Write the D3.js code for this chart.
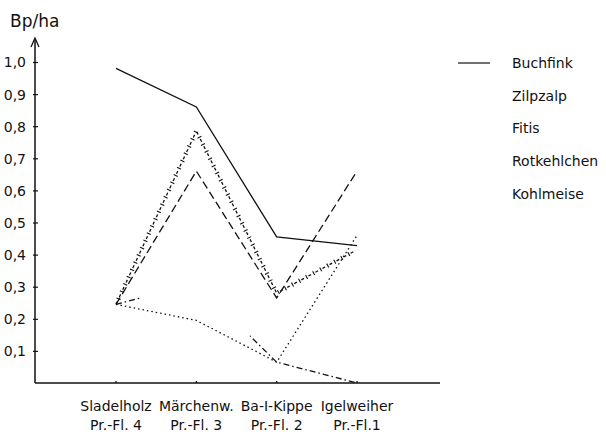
<!DOCTYPE html>
<html>
<head>
<meta charset="utf-8">
<script src="https://cdn.jsdelivr.net/npm/d3@7"></script>
<style>
body { margin: 0; background: #fff; }
text { font-family: "DejaVu Sans", sans-serif; fill: #111; }
.line { fill: none; stroke: #111; stroke-width: 1.3; }
</style>
</head>
<body>
<svg id="chart" width="606" height="434"></svg>
<script>
// sites along the x axis
var sites = ["Sladelholz", "Märchenw.", "Ba-I-Kippe", "Igelweiher"]
var plots = ["Pr.-Fl. 4", "Pr.-Fl. 3", "Pr.-Fl. 2", "Pr.-Fl.1"]

// Bp/ha per site
var buchfink = [0.98, 0.86, 0.455, 0.428]
var zilpzalp = [0.245, 0.66, 0.265, 0.66]
var fitis = [0.245, 0.785, 0.28, 0.415]
var rotkehlchen = [0.245, 0.195, 0.065, 0.46]
var kohlmeise = [0.245, 0.31, 0.065, 0.0]

var yTicks = [0.1, 0.2, 0.3, 0.4, 0.5, 0.6, 0.7, 0.8, 0.9, 1.0]
var legendNames = ["Buchfink", "Zilpzalp", "Fitis", "Rotkehlchen", "Kohlmeise"]

var svg = d3.select("#chart")

var x = d3.scalePoint().domain(sites).range([116, 357])
var y = d3.scaleLinear().domain([0, 1]).range([383, 62])

var line = d3.line()
	.x(function(d, i) { return x(sites[i]) })
	.y(function(d) { return y(d) })

// axes
var yAxis = svg.append("g")
	.attr("transform", "translate(35,0)")
	.call(d3.axisLeft(y).tickValues(yTicks).tickSize(3).tickPadding(6)
		.tickFormat(function(d) { return d3.format(".1f")(d).replace(".", ",") }))
yAxis.select(".domain").remove()
yAxis.selectAll(".tick line").attr("x1", -2).attr("x2", 3).attr("stroke", "#111").attr("stroke-width", 1.2)
yAxis.selectAll(".tick text").style("font-size", "14px").attr("dy", "0.35em")

svg.append("line").attr("x1", 35).attr("x2", 35).attr("y1", y(0)).attr("y2", 39)
	.attr("stroke", "#111").attr("stroke-width", 1.5)
svg.append("path").attr("d", "M31,47 L35,38 L39,47")
	.attr("fill", "none").attr("stroke", "#111").attr("stroke-width", 1.3)
svg.append("line").attr("x1", 35).attr("x2", 440).attr("y1", y(0)).attr("y2", y(0))
	.attr("stroke", "#111").attr("stroke-width", 1.5)

svg.append("text").attr("x", 10).attr("y", 27).text("Bp/ha").style("font-size", "17px")

var xg = svg.append("g")
sites.forEach(function(s, i) {
	xg.append("line").attr("x1", x(s)).attr("x2", x(s)).attr("y1", y(0) - 2).attr("y2", y(0))
		.attr("stroke", "#111").attr("stroke-width", 1.3)
	xg.append("text").attr("x", x(s)).attr("y", 411).attr("text-anchor", "middle")
		.style("font-size", "14px").text(s)
	xg.append("text").attr("x", x(s)).attr("y", 430).attr("text-anchor", "middle")
		.style("font-size", "14px").text(plots[i])
})

// series
svg.append("path").datum(buchfink).attr("class", "line").attr("d", line)

svg.append("path").datum(zilpzalp).attr("class", "line").attr("d", line)
	.attr("stroke-dasharray", "8,4")

var fitisPath = svg.append("path").datum(fitis).attr("class", "line").attr("d", line)
	.attr("stroke-dasharray", "3,5")
// small crosses between the dashes
var node = fitisPath.node()
var len = node.getTotalLength()
for (var l = 6; l < len - 2; l += 8) {
	var p = node.getPointAtLength(l)
	var q = node.getPointAtLength(Math.min(l + 1, len))
	var a = Math.atan2(q.y - p.y, q.x - p.x) + Math.PI / 2
	svg.append("line")
		.attr("x1", p.x - 2.2 * Math.cos(a)).attr("y1", p.y - 2.2 * Math.sin(a))
		.attr("x2", p.x + 2.2 * Math.cos(a)).attr("y2", p.y + 2.2 * Math.sin(a))
		.attr("stroke", "#111").attr("stroke-width", 1.1)
}

svg.append("path").datum(rotkehlchen).attr("class", "line").attr("d", line)
	.attr("stroke-dasharray", "1.5,3").attr("stroke-width", 1.8)

// Kohlmeise is only partly drawn in the original between the first and third site
var mask = svg.append("defs").append("mask").attr("id", "kmask")
mask.append("rect").attr("width", 606).attr("height", 434).attr("fill", "#fff")
mask.append("rect").attr("x", x(sites[0]) + 25).attr("width", x(sites[2]) - x(sites[0]) - 52)
	.attr("y", 0).attr("height", 434).attr("fill", "#000")
svg.append("path").datum(kohlmeise).attr("class", "line").attr("d", line)
	.attr("stroke-dasharray", "6,3,1.5,3").attr("mask", "url(#kmask)")

// legend
svg.append("line").attr("x1", 458).attr("x2", 490).attr("y1", 63).attr("y2", 63)
	.attr("stroke", "#111").attr("stroke-width", 1.2)
legendNames.forEach(function(n, i) {
	svg.append("text").attr("x", 512).attr("y", 68 + i * 32.7).style("font-size", "14px").text(n)
})
</script>
</body>
</html>
